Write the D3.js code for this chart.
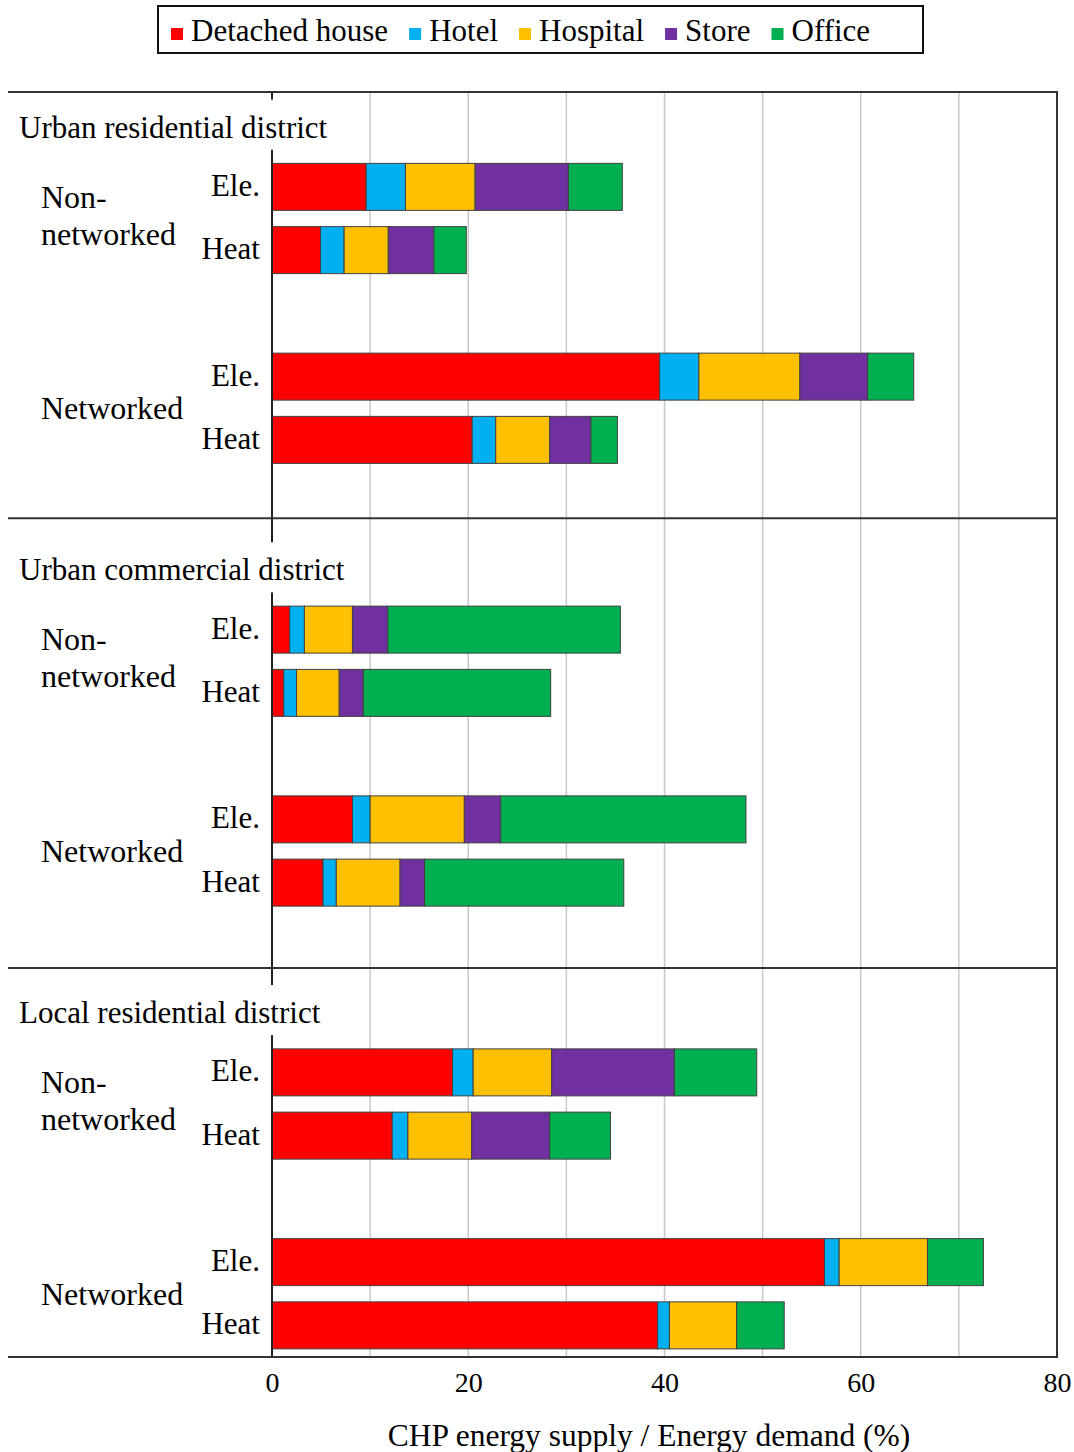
<!DOCTYPE html>
<html>
<head>
<meta charset="utf-8">
<script src="https://cdn.jsdelivr.net/npm/d3@7"></script>
<style>
  html, body { margin: 0; padding: 0; background: #fff; }
  svg { display: block; }
  text { font-family: "Liberation Serif", "Times New Roman", serif; fill: #000; }
</style>
</head>
<body>
<div id="chart"></div>
<script>
// ---- data ----
const seriesNames = ["Detached house", "Hotel", "Hospital", "Store", "Office"];
const seriesColors = ["#FF0000", "#00B0F0", "#FFC000", "#7030A0", "#00B050"];
const districts = ["Urban residential district", "Urban commercial district", "Local residential district"];
const systems = [["Non-", "networked"], ["Networked"]];
const energies = ["Ele.", "Heat"];
// rows: per district -> Non-networked Ele., Heat, Networked Ele., Heat
const detachedHouse = [9.6, 4.95, 39.5, 20.4, 1.8, 1.2, 8.2, 5.2, 18.4, 12.25, 56.3, 39.3];
const hotel         = [4.0, 2.4, 4.0, 2.4, 1.5, 1.3, 1.8, 1.35, 2.1, 1.6, 1.5, 1.2];
const hospital      = [7.1, 4.5, 10.3, 5.5, 4.9, 4.35, 9.6, 6.5, 8.0, 6.5, 9.0, 6.85];
const store         = [9.5, 4.65, 6.9, 4.2, 3.6, 2.45, 3.7, 2.5, 12.5, 7.95, 0, 0];
const office        = [5.5, 3.3, 4.7, 2.7, 23.7, 19.1, 25.0, 20.3, 8.4, 6.2, 5.7, 4.85];
const xTicks = [0, 20, 40, 60, 80];
const xGrid = [10, 20, 30, 40, 50, 60, 70];
const xTitle = "CHP energy supply / Energy demand (%)";

// ---- layout ----
const W = 1074, H = 1452;
const plotTop = 92, plotBottom = 1357, plotLeft = 272, plotRight = 1057, frameLeft = 8;
const slotsPerDistrict = 7;
const rowSlots = [0, 1, 3, 4];

const svg = d3.select("#chart").append("svg").attr("width", W).attr("height", H);

const x = d3.scaleLinear().domain([0, 80]).range([plotLeft, plotRight]);
const y = d3.scaleLinear().domain([-1.5, 18.5]).range([plotTop, plotBottom]);
const slotH = y(1) - y(0);
const barH = slotH * 0.743;

const series = [detachedHouse, hotel, hospital, store, office];
const rows = detachedHouse.map((_, i) => {
  const d = Math.floor(i / 4), k = i % 4;
  return { i, slot: d * slotsPerDistrict + rowSlots[k] };
});
const stackData = rows.map(r => {
  const o = { slot: r.slot };
  seriesNames.forEach((n, s) => o[n] = series[s][r.i]);
  return o;
});
const stacked = d3.stack().keys(seriesNames)(stackData);

// gridlines
svg.append("g").selectAll("line").data(xGrid).join("line")
  .attr("x1", d => x(d)).attr("x2", d => x(d))
  .attr("y1", plotTop).attr("y2", plotBottom)
  .attr("stroke", "#c8c8c8").attr("stroke-width", 1.5);

// bars
svg.append("g").selectAll("g").data(stacked).join("g")
  .attr("fill", (d, i) => seriesColors[i])
  .selectAll("rect").data(d => d.filter(p => p[1] - p[0] > 0)).join("rect")
  .attr("x", d => x(d[0]))
  .attr("width", d => x(d[1]) - x(d[0]))
  .attr("y", d => y(d.data.slot) - barH / 2)
  .attr("height", barH)
  .attr("stroke", "#404040").attr("stroke-width", 1);

// y axis line
svg.append("line")
  .attr("x1", plotLeft).attr("x2", plotLeft).attr("y1", plotTop).attr("y2", plotBottom)
  .attr("stroke", "#222").attr("stroke-width", 2);

// district titles (with white box covering the axis)
districts.forEach((name, d) => {
  const cy = y(d * slotsPerDistrict - 1);
  const t = svg.append("text")
    .attr("x", 19).attr("y", cy + 14)
    .attr("font-size", 31)
    .text(name);
  const bb = t.node().getBBox();
  svg.insert("rect", "text")
    .attr("x", 10).attr("y", cy - 24)
    .attr("width", Math.max(bb.x + bb.width + 4, plotLeft + 8) - 10).attr("height", 50)
    .attr("fill", "#fff");
  // system labels
  systems.forEach((lines, s) => {
    const mid = (y(d * slotsPerDistrict + rowSlots[s * 2]) + y(d * slotsPerDistrict + rowSlots[s * 2 + 1])) / 2;
    if (lines.length === 2) {
      svg.append("text").attr("x", 41).attr("y", mid - 11).attr("font-size", 32).text(lines[0]);
      svg.append("text").attr("x", 41).attr("y", mid + 26).attr("font-size", 32).text(lines[1]);
    } else {
      svg.append("text").attr("x", 41).attr("y", mid + 11).attr("font-size", 32).text(lines[0]);
    }
    energies.forEach((e, k) => {
      svg.append("text")
        .attr("x", 260).attr("y", y(d * slotsPerDistrict + rowSlots[s * 2 + k]) + 9)
        .attr("text-anchor", "end").attr("font-size", 31).text(e);
    });
  });
});

// frame lines
const frame = svg.append("g").attr("stroke", "#333").attr("stroke-width", 2);
[plotTop, y(5.24), y(12.35), plotBottom].forEach(v => {
  frame.append("line").attr("x1", frameLeft).attr("x2", plotRight + 1).attr("y1", v).attr("y2", v);
});
frame.append("line").attr("x1", plotRight).attr("x2", plotRight).attr("y1", plotTop).attr("y2", plotBottom);

// x axis
const xAxis = svg.append("g")
  .attr("transform", `translate(0,${plotBottom})`)
  .call(d3.axisBottom(x).tickValues(xTicks).tickSize(0).tickPadding(15).tickFormat(d3.format("d")));
xAxis.select(".domain").remove();
xAxis.selectAll("text")
  .attr("font-size", 28)
  .attr("font-family", "Liberation Serif, Times New Roman, serif")
  .attr("fill", "#000");

svg.append("text")
  .attr("x", 649).attr("y", 1446)
  .attr("text-anchor", "middle").attr("font-size", 31.5)
  .text(xTitle);

// legend
svg.append("rect")
  .attr("x", 158).attr("y", 6).attr("width", 765).attr("height", 47)
  .attr("fill", "#fff").attr("stroke", "#111").attr("stroke-width", 2);
const leg = svg.append("g").attr("transform", "translate(171,41)");
let lx = 0;
seriesNames.forEach((n, i) => {
  const g = leg.append("g").attr("transform", `translate(${lx},0)`);
  g.append("rect").attr("x", 0).attr("y", -13).attr("width", 12).attr("height", 12).attr("fill", seriesColors[i]);
  const t = g.append("text").attr("x", 20).attr("y", 0).attr("font-size", 31).text(n);
  lx += 20 + t.node().getComputedTextLength() + 21;
});
</script>
</body>
</html>
